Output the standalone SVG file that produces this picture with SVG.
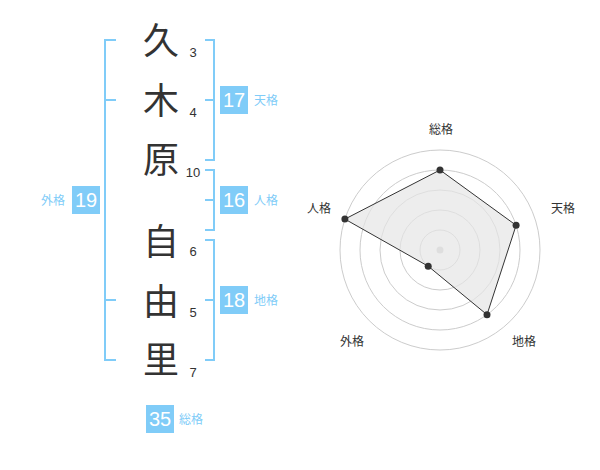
<svg xmlns="http://www.w3.org/2000/svg" width="600" height="470" viewBox="0 0 600 470">
<style>
.ch{font-family:"Noto Sans CJK JP","Noto Sans CJK SC",sans-serif;font-size:36px;fill:#333;text-anchor:middle}
.num{font-family:"Liberation Sans",Arial,sans-serif;font-size:13px;fill:#333;text-anchor:middle}
.br{fill:none;stroke:#80ccf8;stroke-width:2}
.box{fill:#80ccf8}
.bt{font-family:"Liberation Sans",Arial,sans-serif;font-size:20px;fill:#fff;text-anchor:middle}
.bl{font-family:"Noto Sans CJK JP","Noto Sans CJK SC",sans-serif;font-size:12px;fill:#80ccf8}
.ring{fill:none;stroke:#ccc;stroke-width:1}
.ax{font-family:"Noto Sans CJK JP","Noto Sans CJK SC",sans-serif;font-size:12px;fill:#333;text-anchor:middle}
.pt{fill:#333}
</style>
<rect width="600" height="470" fill="#fff"/>
<g id="chars">
<text class="ch" x="161" y="54">久</text>
<text class="ch" x="161" y="114">木</text>
<text class="ch" x="161" y="173">原</text>
<text class="ch" x="161" y="255">自</text>
<text class="ch" x="161" y="315">由</text>
<text class="ch" x="161" y="373">里</text>
</g>
<g id="strokes">
<text class="num" x="193" y="57">3</text>
<text class="num" x="193" y="117">4</text>
<text class="num" x="193" y="177">10</text>
<text class="num" x="193" y="256">6</text>
<text class="num" x="193" y="317">5</text>
<text class="num" x="193" y="377">7</text>
</g>
<g id="connectors">
<path class="br" d="M116,40H105V360H116M105,100H116M105,300H116"/>
<path class="br" d="M205,40H214V160H205M214,100H205"/>
<path class="br" d="M205,170H214V230H205M214,200H205"/>
<path class="br" d="M205,240H214V360H205M214,300H205"/>
</g>
<g id="tenkaku">
<rect class="box" x="220" y="86" width="28" height="28"/>
<text class="bt" x="234" y="107">17</text>
<text class="bl" x="254" y="105">天格</text>
</g>
<g id="jinkaku">
<rect class="box" x="220" y="186" width="28" height="28"/>
<text class="bt" x="234" y="207">16</text>
<text class="bl" x="254" y="205">人格</text>
</g>
<g id="chikaku">
<rect class="box" x="220" y="286" width="28" height="28"/>
<text class="bt" x="234" y="307">18</text>
<text class="bl" x="254" y="305">地格</text>
</g>
<g id="gaikaku">
<rect class="box" x="72" y="186" width="28" height="28"/>
<text class="bt" x="86" y="207">19</text>
<text class="bl" x="41" y="205">外格</text>
</g>
<g id="soukaku">
<rect class="box" x="146" y="405" width="28" height="28"/>
<text class="bt" x="160" y="426">35</text>
<text class="bl" x="179" y="424">総格</text>
</g>
<g id="radar">
<circle class="ring" cx="440" cy="250" r="20"/>
<circle class="ring" cx="440" cy="250" r="40"/>
<circle class="ring" cx="440" cy="250" r="60"/>
<circle class="ring" cx="440" cy="250" r="80"/>
<circle class="ring" cx="440" cy="250" r="100"/>
<circle cx="440" cy="250" r="3.5" fill="#ccc"/>
<polygon points="440,170 516.1,225.3 487,314.7 428.2,266.2 344.9,219.1" fill="#e6e6e6" fill-opacity="0.7" stroke="#333" stroke-width="1"/>
<circle class="pt" cx="440" cy="170" r="3.5"/>
<circle class="pt" cx="516.1" cy="225.3" r="3.5"/>
<circle class="pt" cx="487" cy="314.7" r="3.5"/>
<circle class="pt" cx="428.2" cy="266.2" r="3.5"/>
<circle class="pt" cx="344.9" cy="219.1" r="3.5"/>
<text class="ax" x="441" y="134">総格</text>
<text class="ax" x="563" y="213">天格</text>
<text class="ax" x="524" y="346">地格</text>
<text class="ax" x="352" y="346">外格</text>
<text class="ax" x="319" y="213">人格</text>
</g>
</svg>
